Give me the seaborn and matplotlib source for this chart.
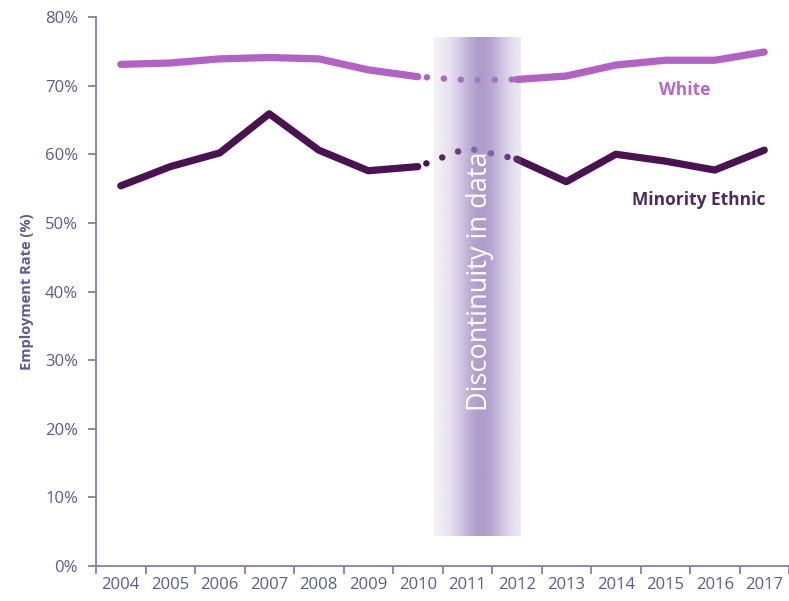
import numpy as np
import pandas as pd
import matplotlib
matplotlib.use("Agg")
import matplotlib.pyplot as plt
import seaborn as sns
from matplotlib.colors import to_rgb

years = ["2004", "2005", "2006", "2007", "2008", "2009", "2010",
         "2011", "2012", "2013", "2014", "2015", "2016", "2017"]
white = [73.1, 73.3, 73.9, 74.1, 73.9, 72.3, 71.3,
         70.8, 70.9, 71.4, 73.0, 73.7, 73.7, 74.9]
minority = [55.4, 58.2, 60.2, 65.9, 60.6, 57.6, 58.2,
            60.9, 59.3, 56.0, 60.0, 59.0, 57.7, 60.6]
yticks = [0, 10, 20, 30, 40, 50, 60, 70, 80]

sns.set_theme(style="white")
plt.rcParams['font.family'] = ['Open Sans', 'DejaVu Sans']

fig = plt.figure(figsize=(7.89, 6.01), dpi=100)
ax = fig.add_axes([0.1217, 0.0582, 0.8783, 0.9135])

x = np.arange(len(years))
df = pd.DataFrame({"x": x, "White": white, "Minority": minority})

c_white = "#b261c4"
c_min = "#4a1250"
lw = 5.2

for col, c in [("White", c_white), ("Minority", c_min)]:
    seg1 = df.iloc[0:7]
    seg2 = df.iloc[6:9]
    seg3 = df.iloc[8:14]
    sns.lineplot(data=seg1, x="x", y=col, ax=ax, color=c, lw=lw,
                 solid_capstyle="round", solid_joinstyle="round", zorder=3)
    sns.lineplot(data=seg3, x="x", y=col, ax=ax, color=c, lw=lw,
                 solid_capstyle="round", solid_joinstyle="round", zorder=3)
    sns.lineplot(data=seg2, x="x", y=col, ax=ax, color=c, lw=lw * 0.9,
                 linestyle=(1.2, (0.01, 2.6)), dash_capstyle="round", zorder=3)

# Discontinuity band with gradient
x0, x1 = 6.33, 8.08
y0, y1 = 4.4, 77.1
n = 200
t = np.linspace(0, 1, n)
prof = np.exp(-((t - 0.55) / 0.3) ** 2)
rgb = to_rgb("#9a84bf")
img = np.zeros((1, n, 4))
img[0, :, 0] = rgb[0]
img[0, :, 1] = rgb[1]
img[0, :, 2] = rgb[2]
img[0, :, 3] = 0.1 + 0.7 * prof
ax.imshow(img, extent=[x0, x1, y0, y1], aspect="auto", zorder=4,
          interpolation="bilinear")
ax.text((x0 + x1) / 2 + 0.05, 41.5, "Discontinuity in data", rotation=90,
        color="white", fontsize=19.5, ha="center", va="center", zorder=5)

ax.text(11.4, 69.4, "White", color="#b867c8", fontsize=12.5,
        fontweight="bold", ha="center", va="center")
ax.text(11.68, 53.4, "Minority Ethnic", color="#4e2a5e", fontsize=12.5,
        fontweight="bold", ha="center", va="center")

ax.set_xlim(-0.5, 13.5)
ax.set_ylim(0, 80)
ax.set_yticks(yticks)
ax.set_yticklabels([f"{v}%" for v in yticks])
ax.set_xticks(x)
ax.set_xticklabels(years)
ax.set_xticks(np.arange(-0.5, 14, 1), minor=True)

spine_c = "#8a7cab"
for s in ["top", "right"]:
    ax.spines[s].set_visible(False)
for s in ["left", "bottom"]:
    ax.spines[s].set_color(spine_c)
    ax.spines[s].set_linewidth(1.3)

tick_c = "#5b5b99"
ax.tick_params(axis="x", which="major", length=0, labelsize=12,
               labelcolor=tick_c, pad=8)
ax.tick_params(axis="x", which="minor", length=6, width=1.3, color=spine_c,
               direction="out", bottom=True)
ax.tick_params(axis="y", which="major", length=6, width=1.3, color=spine_c,
               direction="out", left=True, labelsize=12, labelcolor=tick_c,
               pad=7)
ax.set_xlabel("")
ax.set_ylabel("Employment Rate (%)", fontsize=10.5, fontweight="bold",
              color=tick_c, labelpad=8)
ax.grid(False)

fig.savefig("out.png", dpi=100)
